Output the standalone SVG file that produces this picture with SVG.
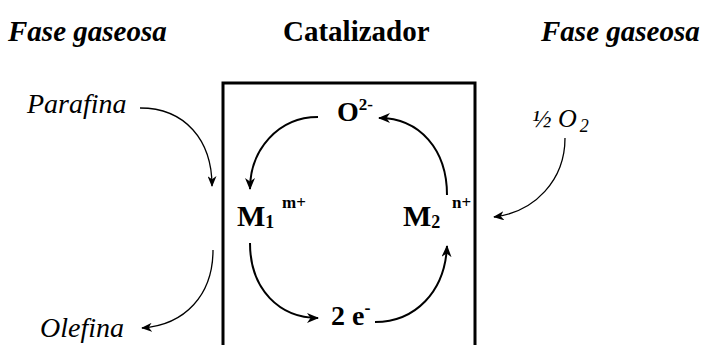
<svg xmlns="http://www.w3.org/2000/svg" width="702" height="345" viewBox="0 0 702 345">
<style>
text{font-family:'Liberation Serif','DejaVu Serif',serif;fill:#000}
.b{font-weight:bold}
.i{font-style:italic}
.c{fill:none;stroke:#000}
.in{stroke-width:2}
.out{stroke-width:1.3}
</style>
<defs>
<marker id="ah" viewBox="0 0 12 10" refX="11" refY="5" markerWidth="12" markerHeight="10" markerUnits="userSpaceOnUse" orient="auto">
<path d="M0,0 L12,5 L0,10 L3.5,5 z" fill="#000"/>
</marker>
<marker id="ah2" viewBox="0 0 12 10" refX="11" refY="5" markerWidth="11" markerHeight="9" markerUnits="userSpaceOnUse" orient="auto">
<path d="M0,0 L12,5 L0,10 L3.5,5 z" fill="#000"/>
</marker>
</defs>
<rect width="702" height="345" fill="#fff"/>
<g id="headers" font-family="Liberation Serif, serif">
<text class="b i" x="8" y="41" font-size="29">Fase gaseosa</text>
<text class="b" x="283" y="41" font-size="29">Catalizador</text>
<text class="b i" x="541" y="41" font-size="29">Fase gaseosa</text>
</g>
<g id="catalizador">
<path d="M223,347 V83 H475 V347" fill="none" stroke="#000" stroke-width="3"/>
</g>
<g id="parafina"><text class="i" x="27" y="113" font-size="28">Parafina</text></g>
<g id="olefina"><text class="i" x="40" y="337" font-size="28">Olefina</text></g>
<g id="o2gas"><text class="i" x="532" y="127" font-size="26">½ O<tspan font-size="18" dx="3" dy="5">2</tspan></text></g>
<g id="o2minus"><text class="b" x="337" y="121" font-size="28">O<tspan font-size="17" dy="-11">2-</tspan></text></g>
<g id="m1"><text class="b" x="237" y="226" font-size="30">M<tspan font-size="18" dy="2">1</tspan><tspan font-size="17" x="282" y="208">m+</tspan></text></g>
<g id="m2"><text class="b" x="403" y="226" font-size="30">M<tspan font-size="18" dy="2">2</tspan><tspan font-size="17" x="452" y="208">n+</tspan></text></g>
<g id="electrons"><text class="b" x="331" y="325" font-size="28">2 e<tspan font-size="18" dy="-11">-</tspan></text></g>
<g id="connectors">
<path class="c in" d="M318,117 C278,117 250,150 250,189" marker-end="url(#ah)"/>
<path class="c in" d="M447,195 C447,150 420,118 379,118" marker-end="url(#ah)"/>
<path class="c in" d="M250,243 C250,290 280,318 318,318" marker-end="url(#ah)"/>
<path class="c in" d="M375,322 C415,322 445,292 447,246" marker-end="url(#ah)"/>
<path class="c out" d="M140,108 C185,108 212,140 212,186" marker-end="url(#ah2)"/>
<path class="c out" d="M213,250 C213,295 185,325 142,328" marker-end="url(#ah2)"/>
<path class="c out" d="M565,138 C565,180 535,212 494,217" marker-end="url(#ah2)"/>
</g>
</svg>
